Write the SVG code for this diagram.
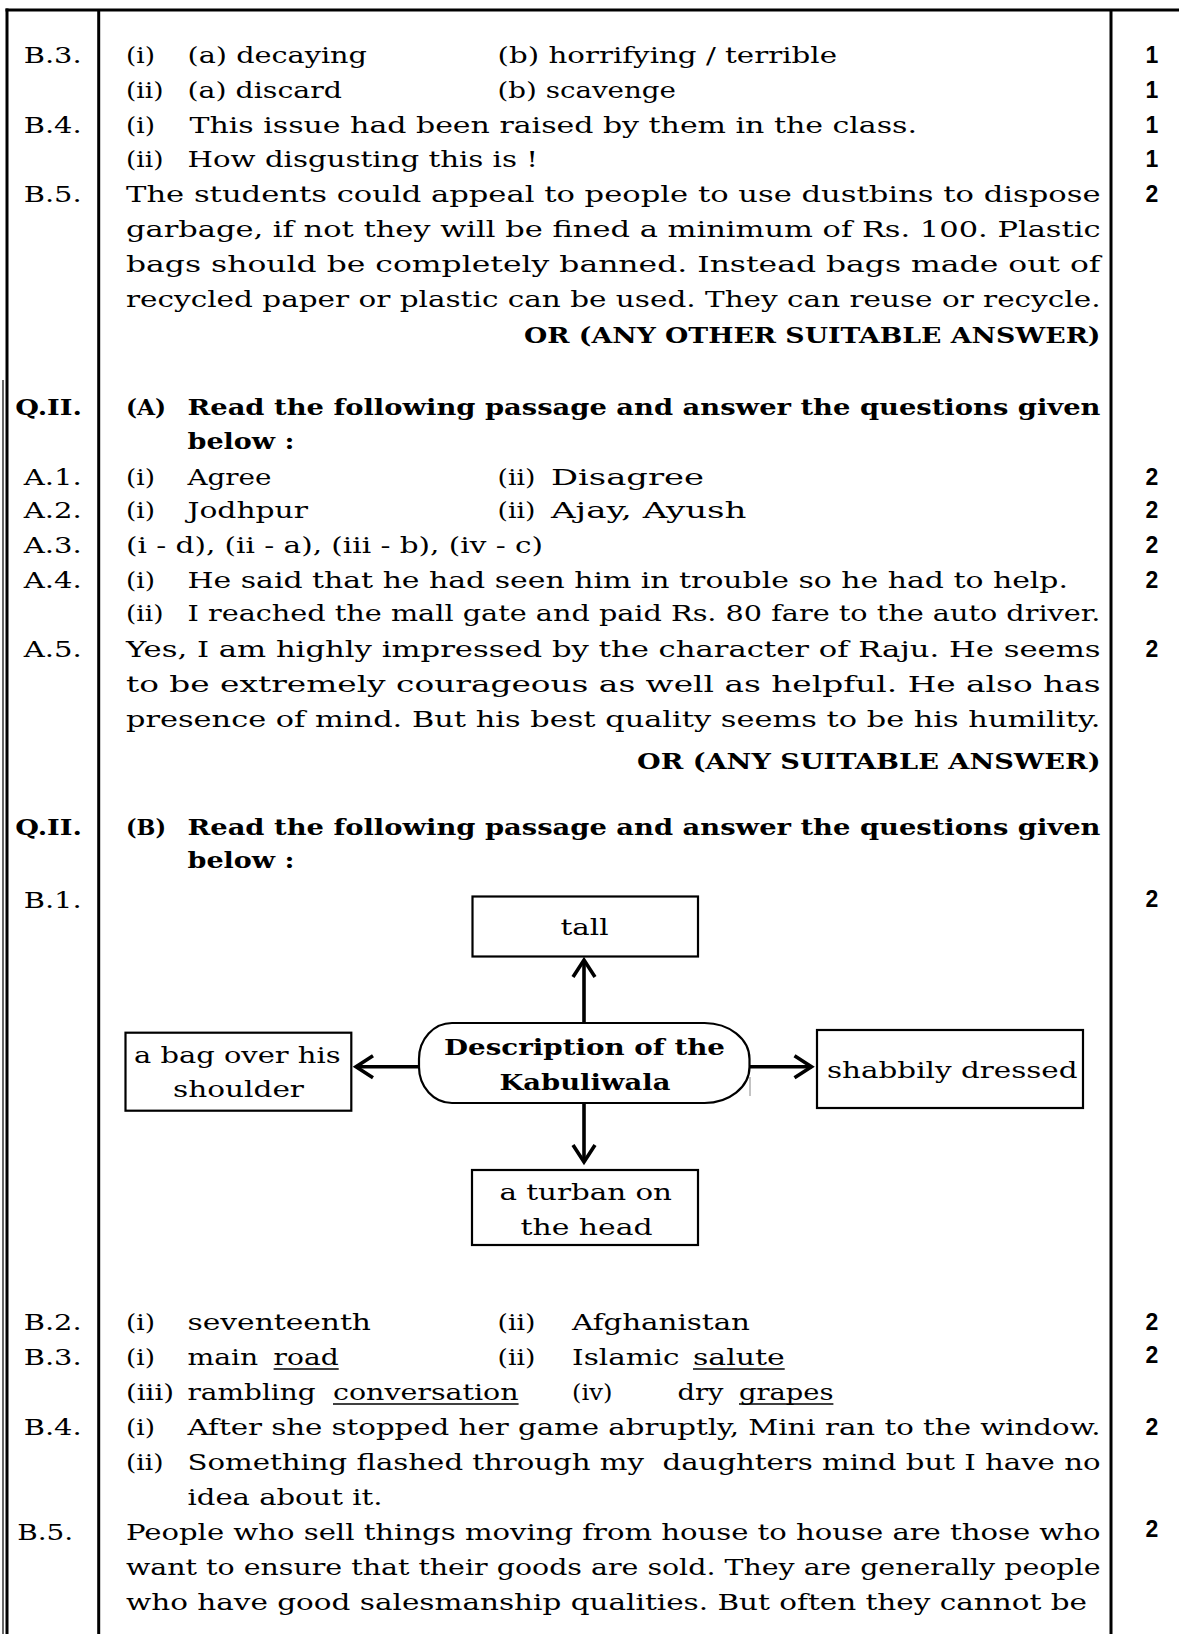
<svg xmlns="http://www.w3.org/2000/svg" width="1179" height="1634" viewBox="0 0 1179 1634">
<style>
.t{font-family:"DejaVu Serif","Liberation Serif",serif;font-size:23px;fill:#000}
.b{font-weight:bold}
.m{font-family:"Liberation Sans",Arial,sans-serif;font-weight:bold;font-size:23px;fill:#000;text-anchor:middle}
.frame{stroke:#000;stroke-width:3;fill:none}
.box{fill:#fff;stroke:#000;stroke-width:2.2}
.conn{stroke:#000;stroke-width:3.6;fill:none}
.ul{stroke:#000;stroke-width:1.5}
</style>
<defs>
<marker id="arr" viewBox="-22 -14 26 28" refX="0" refY="0" markerWidth="26" markerHeight="28" markerUnits="userSpaceOnUse" orient="auto">
<path d="M-17,-11 L0,0 L-17,11" fill="none" stroke="#000" stroke-width="3.6"/>
</marker>
</defs>
<rect width="1179" height="1634" fill="#fff"/>
<g id="frame">
<line class="frame" x1="5.5" y1="10" x2="1179" y2="10"/>
<line class="frame" x1="7" y1="8.5" x2="7" y2="1634"/>
<line x1="3" y1="380" x2="3" y2="1634" stroke="#000" stroke-width="1.2"/>
<line class="frame" x1="98.7" y1="10" x2="98.7" y2="1634"/>
<line class="frame" x1="1111" y1="10" x2="1111" y2="1634"/>
</g>
<g id="labels" class="t">
<text x="23.7" y="63" textLength="58" lengthAdjust="spacingAndGlyphs">B.3.</text>
<text x="23.7" y="133" textLength="58" lengthAdjust="spacingAndGlyphs">B.4.</text>
<text x="23.7" y="202" textLength="58" lengthAdjust="spacingAndGlyphs">B.5.</text>
<text class="b" x="15.3" y="415" textLength="66.7" lengthAdjust="spacingAndGlyphs">Q.II.</text>
<text x="23.7" y="485" textLength="58" lengthAdjust="spacingAndGlyphs">A.1.</text>
<text x="23.7" y="518" textLength="58" lengthAdjust="spacingAndGlyphs">A.2.</text>
<text x="23.7" y="553" textLength="58" lengthAdjust="spacingAndGlyphs">A.3.</text>
<text x="23.7" y="588" textLength="58" lengthAdjust="spacingAndGlyphs">A.4.</text>
<text x="23.7" y="657" textLength="58" lengthAdjust="spacingAndGlyphs">A.5.</text>
<text class="b" x="15.3" y="835" textLength="66.7" lengthAdjust="spacingAndGlyphs">Q.II.</text>
<text x="23.7" y="908" textLength="58" lengthAdjust="spacingAndGlyphs">B.1.</text>
<text x="23.7" y="1330" textLength="58" lengthAdjust="spacingAndGlyphs">B.2.</text>
<text x="23.7" y="1365" textLength="58" lengthAdjust="spacingAndGlyphs">B.3.</text>
<text x="23.7" y="1435" textLength="58" lengthAdjust="spacingAndGlyphs">B.4.</text>
<text x="17.2" y="1540" textLength="56" lengthAdjust="spacingAndGlyphs">B.5.</text>
</g>
<g id="marks" class="m">
<text x="1152" y="63">1</text>
<text x="1152" y="98">1</text>
<text x="1152" y="133">1</text>
<text x="1152" y="167">1</text>
<text x="1152" y="202">2</text>
<text x="1152" y="485">2</text>
<text x="1152" y="518">2</text>
<text x="1152" y="553">2</text>
<text x="1152" y="588">2</text>
<text x="1152" y="657">2</text>
<text x="1152" y="907">2</text>
<text x="1152" y="1330">2</text>
<text x="1152" y="1363">2</text>
<text x="1152" y="1435">2</text>
<text x="1152" y="1537">2</text>
</g>
<g id="section-b-answers" class="t">
<text x="126" y="63" textLength="29" lengthAdjust="spacingAndGlyphs">(i)</text>
<text x="187.5" y="63" textLength="179.5" lengthAdjust="spacingAndGlyphs">(a) decaying</text>
<text x="497.5" y="63" textLength="339.5" lengthAdjust="spacingAndGlyphs">(b) horrifying / terrible</text>
<text x="126" y="98" textLength="37.5" lengthAdjust="spacingAndGlyphs">(ii)</text>
<text x="187.5" y="98" textLength="154.5" lengthAdjust="spacingAndGlyphs">(a) discard</text>
<text x="497.5" y="98" textLength="178.5" lengthAdjust="spacingAndGlyphs">(b) scavenge</text>
<text x="126" y="133" textLength="29" lengthAdjust="spacingAndGlyphs">(i)</text>
<text x="189.5" y="133" textLength="727.5" lengthAdjust="spacingAndGlyphs">This issue had been raised by them in the class.</text>
<text x="126" y="167" textLength="37.5" lengthAdjust="spacingAndGlyphs">(ii)</text>
<text x="187.5" y="167" textLength="350.5" lengthAdjust="spacingAndGlyphs">How disgusting this is !</text>
<text x="126" y="202" textLength="974.5" lengthAdjust="spacingAndGlyphs">The students could appeal to people to use dustbins to dispose</text>
<text x="126" y="237" textLength="974.5" lengthAdjust="spacingAndGlyphs">garbage, if not they will be fined a minimum of Rs. 100. Plastic</text>
<text x="126" y="272" textLength="974.5" lengthAdjust="spacingAndGlyphs">bags should be completely banned. Instead bags made out of</text>
<text x="126" y="307" textLength="974.5" lengthAdjust="spacingAndGlyphs">recycled paper or plastic can be used. They can reuse or recycle.</text>
<text class="b" x="524" y="343" textLength="576.5" lengthAdjust="spacingAndGlyphs">OR (ANY OTHER SUITABLE ANSWER)</text>
</g>
<g id="section-q2a" class="t">
<text class="b" x="126" y="415" textLength="40" lengthAdjust="spacingAndGlyphs">(A)</text>
<text class="b" x="187.5" y="415" textLength="913" lengthAdjust="spacingAndGlyphs">Read the following passage and answer the questions given</text>
<text class="b" x="187.5" y="449" textLength="107" lengthAdjust="spacingAndGlyphs">below :</text>
<text x="126" y="485" textLength="29" lengthAdjust="spacingAndGlyphs">(i)</text>
<text x="187.5" y="485" textLength="84" lengthAdjust="spacingAndGlyphs">Agree</text>
<text x="497.5" y="485" textLength="38" lengthAdjust="spacingAndGlyphs">(ii)</text>
<text x="551" y="485" textLength="153" lengthAdjust="spacingAndGlyphs">Disagree</text>
<text x="126" y="518" textLength="29" lengthAdjust="spacingAndGlyphs">(i)</text>
<text x="187.5" y="518" textLength="120.5" lengthAdjust="spacingAndGlyphs">Jodhpur</text>
<text x="497.5" y="518" textLength="38" lengthAdjust="spacingAndGlyphs">(ii)</text>
<text x="551" y="518" textLength="195.5" lengthAdjust="spacingAndGlyphs">Ajay, Ayush</text>
<text x="126" y="553" textLength="417" lengthAdjust="spacingAndGlyphs">(i - d), (ii - a), (iii - b), (iv - c)</text>
<text x="126" y="588" textLength="29" lengthAdjust="spacingAndGlyphs">(i)</text>
<text x="187.5" y="588" textLength="880.5" lengthAdjust="spacingAndGlyphs">He said that he had seen him in trouble so he had to help.</text>
<text x="126" y="621" textLength="37.5" lengthAdjust="spacingAndGlyphs">(ii)</text>
<text x="187.5" y="621" textLength="913" lengthAdjust="spacingAndGlyphs">I reached the mall gate and paid Rs. 80 fare to the auto driver.</text>
<text x="126" y="657" textLength="974.5" lengthAdjust="spacingAndGlyphs">Yes, I am highly impressed by the character of Raju. He seems</text>
<text x="126" y="692" textLength="974.5" lengthAdjust="spacingAndGlyphs">to be extremely courageous as well as helpful. He also has</text>
<text x="126" y="727" textLength="974.5" lengthAdjust="spacingAndGlyphs">presence of mind. But his best quality seems to be his humility.</text>
<text class="b" x="637" y="769" textLength="463.5" lengthAdjust="spacingAndGlyphs">OR (ANY SUITABLE ANSWER)</text>
</g>
<g id="section-q2b" class="t">
<text class="b" x="126" y="835" textLength="40" lengthAdjust="spacingAndGlyphs">(B)</text>
<text class="b" x="187.5" y="835" textLength="913" lengthAdjust="spacingAndGlyphs">Read the following passage and answer the questions given</text>
<text class="b" x="187.5" y="868" textLength="107" lengthAdjust="spacingAndGlyphs">below :</text>
</g>
<g id="connectors">
<line class="conn" x1="584" y1="1023" x2="584" y2="960" marker-end="url(#arr)"/>
<line class="conn" x1="584" y1="1103" x2="584" y2="1162" marker-end="url(#arr)"/>
<line class="conn" x1="419" y1="1066.7" x2="356" y2="1066.7" marker-end="url(#arr)"/>
<line class="conn" x1="749.5" y1="1066.7" x2="811.5" y2="1066.7" marker-end="url(#arr)"/>
</g>
<g id="node-center">
<path class="box" stroke-width="2.6" d="M452,1023 H704 A45,36 0 0 1 749.5,1059 V1067 A45,36 0 0 1 704,1103 H452 A33,36 0 0 1 419,1067 V1059 A33,36 0 0 1 452,1023 Z"/>
<line x1="750" y1="1077" x2="750" y2="1096" stroke="#888" stroke-width="1"/>
<text class="t b" x="444" y="1055" textLength="281" lengthAdjust="spacingAndGlyphs">Description of the</text>
<text class="t b" x="499.4" y="1090" textLength="171" lengthAdjust="spacingAndGlyphs">Kabuliwala</text>
</g>
<g id="node-tall">
<rect class="box" x="472.5" y="896.5" width="225.5" height="60"/>
<text class="t" x="560.6" y="935" textLength="48" lengthAdjust="spacingAndGlyphs">tall</text>
</g>
<g id="node-bag">
<rect class="box" x="125.5" y="1032.7" width="225.8" height="78"/>
<text class="t" x="134" y="1063" textLength="206.6" lengthAdjust="spacingAndGlyphs">a bag over his</text>
<text class="t" x="173" y="1097" textLength="131" lengthAdjust="spacingAndGlyphs">shoulder</text>
</g>
<g id="node-shabbily">
<rect class="box" x="817" y="1030" width="266" height="78"/>
<text class="t" x="827" y="1078" textLength="250.5" lengthAdjust="spacingAndGlyphs">shabbily dressed</text>
</g>
<g id="node-turban">
<rect class="box" x="472" y="1170" width="226" height="75"/>
<text class="t" x="499.4" y="1200" textLength="172.6" lengthAdjust="spacingAndGlyphs">a turban on</text>
<text class="t" x="520.5" y="1235" textLength="132" lengthAdjust="spacingAndGlyphs">the head</text>
</g>
<g id="section-b2-b5" class="t">
<text x="126" y="1330" textLength="29" lengthAdjust="spacingAndGlyphs">(i)</text>
<text x="187.5" y="1330" textLength="183.5" lengthAdjust="spacingAndGlyphs">seventeenth</text>
<text x="497.5" y="1330" textLength="38" lengthAdjust="spacingAndGlyphs">(ii)</text>
<text x="572" y="1330" textLength="178" lengthAdjust="spacingAndGlyphs">Afghanistan</text>
<text x="126" y="1365" textLength="29" lengthAdjust="spacingAndGlyphs">(i)</text>
<text x="187.5" y="1365" textLength="70.8" lengthAdjust="spacingAndGlyphs">main</text>
<text x="273.6" y="1365" textLength="65.1" lengthAdjust="spacingAndGlyphs">road</text>
<text x="497.5" y="1365" textLength="38" lengthAdjust="spacingAndGlyphs">(ii)</text>
<text x="572" y="1365" textLength="107.5" lengthAdjust="spacingAndGlyphs">Islamic</text>
<text x="693" y="1365" textLength="91.7" lengthAdjust="spacingAndGlyphs">salute</text>
<text x="126" y="1400" textLength="48" lengthAdjust="spacingAndGlyphs">(iii)</text>
<text x="187.5" y="1400" textLength="128.2" lengthAdjust="spacingAndGlyphs">rambling</text>
<text x="333" y="1400" textLength="185.6" lengthAdjust="spacingAndGlyphs">conversation</text>
<text x="572" y="1400" textLength="40.5" lengthAdjust="spacingAndGlyphs">(iv)</text>
<text x="677.6" y="1400" textLength="45.9" lengthAdjust="spacingAndGlyphs">dry</text>
<text x="739" y="1400" textLength="94.4" lengthAdjust="spacingAndGlyphs">grapes</text>
<line class="ul" x1="273.6" y1="1369" x2="338.7" y2="1369"/>
<line class="ul" x1="693" y1="1369" x2="784.7" y2="1369"/>
<line class="ul" x1="333" y1="1404" x2="518.6" y2="1404"/>
<line class="ul" x1="739" y1="1404" x2="833.4" y2="1404"/>
<text x="126" y="1435" textLength="29" lengthAdjust="spacingAndGlyphs">(i)</text>
<text x="187.5" y="1435" textLength="913" lengthAdjust="spacingAndGlyphs">After she stopped her game abruptly, Mini ran to the window.</text>
<text x="126" y="1470" textLength="37.5" lengthAdjust="spacingAndGlyphs">(ii)</text>
<text x="187.5" y="1470" textLength="913" lengthAdjust="spacingAndGlyphs" xml:space="preserve">Something flashed through my  daughters mind but I have no</text>
<text x="187.5" y="1505" textLength="195" lengthAdjust="spacingAndGlyphs">idea about it.</text>
<text x="126" y="1540" textLength="974.5" lengthAdjust="spacingAndGlyphs">People who sell things moving from house to house are those who</text>
<text x="126" y="1575" textLength="974.5" lengthAdjust="spacingAndGlyphs">want to ensure that their goods are sold. They are generally people</text>
<text x="126" y="1610" textLength="961" lengthAdjust="spacingAndGlyphs">who have good salesmanship qualities. But often they cannot be</text>
</g>
</svg>
